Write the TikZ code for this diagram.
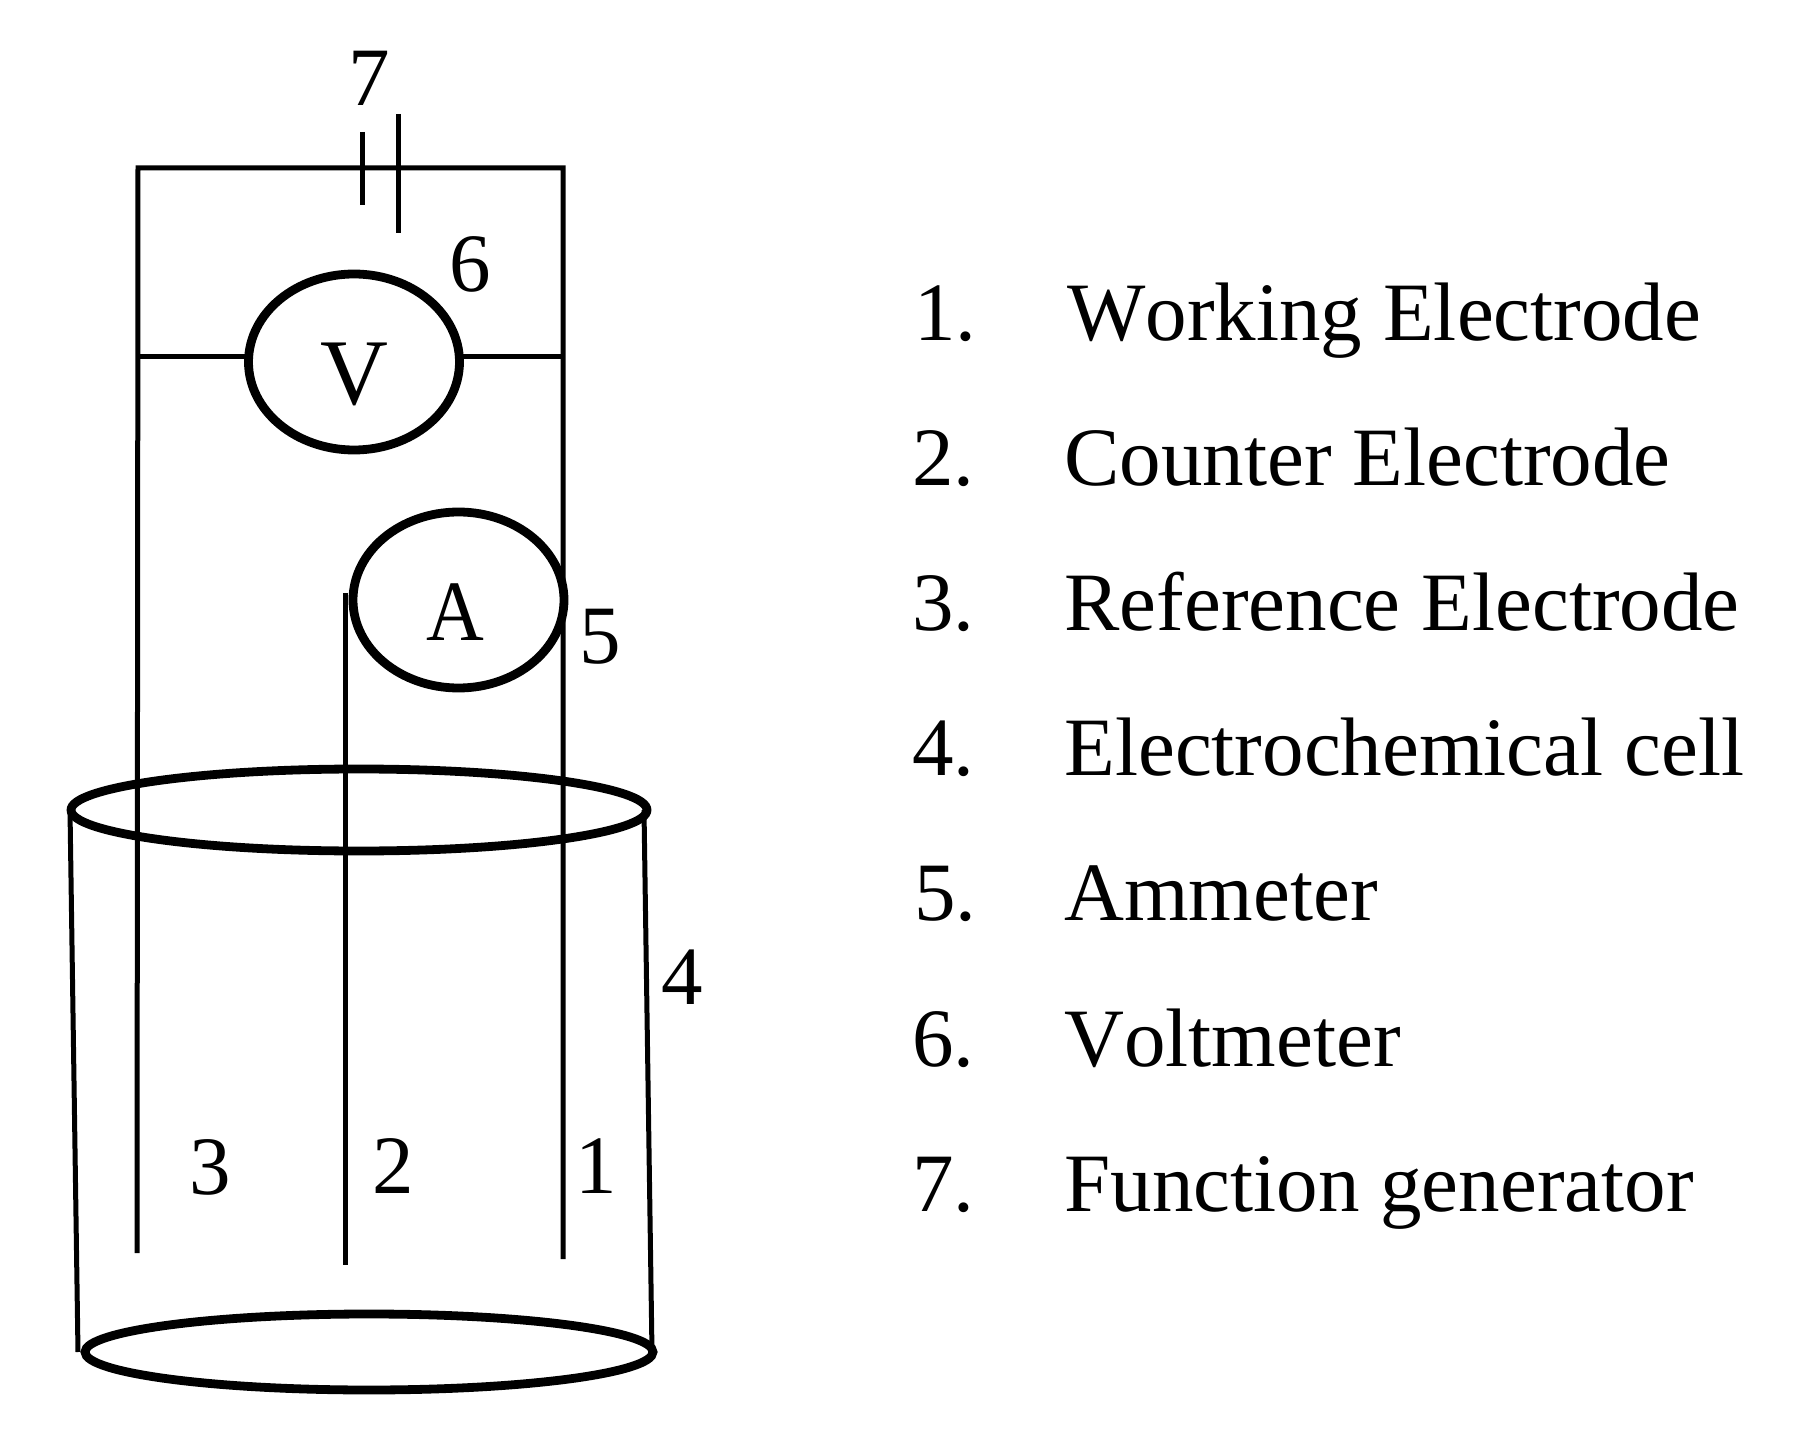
\documentclass[tikz,border=0pt]{standalone}
\usepackage{graphicx}
\usepackage{fontspec}
\setmainfont[Kerning=Off]{Liberation Serif}
\usetikzlibrary{shapes.geometric}
\tikzset{
  wire/.style={line width=2.5pt,black},
  rim/.style={draw,ellipse,line width=4.4pt,inner sep=0pt,outer sep=0pt},
  side/.style={line width=2.5pt,black},
  lbl/.style={inner sep=0pt,font=\fontsize{41.5pt}{50pt}\selectfont},
  meter/.style={inner sep=0pt,font=\fontsize{47pt}{50pt}\selectfont},
  ammeter/.style={inner sep=0pt,font=\fontsize{43pt}{50pt}\selectfont},
  itemnum/.style={inner sep=0pt,anchor=base west,font=\fontsize{41.5pt}{50pt}\selectfont},
  itemtxt/.style={inner sep=0pt,anchor=base west,font=\fontsize{41.5pt}{50pt}\selectfont}
}
\begin{document}
\begin{tikzpicture}[x=0.5pt,y=-0.5pt]
\fill[white,use as bounding box] (0,0) rectangle (1795,1433);
% coordinates
\coordinate (tl) at (138,168);
\coordinate (tr) at (563,168);
\coordinate (bl) at (137,1253);
\coordinate (br) at (563,1259);
\coordinate (vl) at (137,357);
\coordinate (vr) at (563,357);
\coordinate (mt) at (345,593);
\coordinate (mb) at (345,1265);
\coordinate (p1t) at (362,132);
\coordinate (p1b) at (362,205);
\coordinate (p2t) at (398,114);
\coordinate (p2b) at (398,233);
\coordinate (sl1) at (70,810);
\coordinate (sl2) at (78,1352);
\coordinate (sr1) at (644,810);
\coordinate (sr2) at (652,1352);
% meters and cell
\node[rim,minimum width=105.5pt,minimum height=88pt] (V) at (354,362) {};
\node[rim,minimum width=105.5pt,minimum height=88pt] (A) at (458.5,600) {};
\node[rim,minimum width=288pt,minimum height=41pt] (top) at (359,810) {};
\node[rim,minimum width=284pt,minimum height=38pt] (bot) at (369,1352) {};
% wires
\draw[wire] (bl) -- (tl) -- (tr) -- (br);
\draw[wire] (vl) -- (vl -| V.west);
\draw[wire] (vr) -- (vr -| V.east);
\draw[wire] (mt) -- (mb);
\draw[wire] (p1t) -- (p1b);
\draw[wire] (p2t) -- (p2b);
\draw[side] (sl1) -- (sl2);
\draw[side] (sr1) -- (sr2);
% labels
\node[meter] (vt) at (354,374) {V};
\node[ammeter] (at) at (455,612) {\scalebox{0.93}[1]{A}};
\node[lbl] (n7) at (369,78) {7};
\node[lbl] (n6) at (470,264) {6};
\node[lbl] (n5) at (600,637) {5};
\node[lbl] (n4) at (682,977) {4};
\node[lbl] (n3) at (210,1167) {3};
\node[lbl] (n2) at (393,1166) {2};
\node[lbl] (n1) at (596,1166) {1};
% list
\node[itemnum] (i1) at (914,341) {1.};
\node[itemtxt] (t1) at (1067,341) {Working Electrode};
\node[itemnum] (i2) at (912,486) {2.};
\node[itemtxt] (t2) at (1064,486) {Counter Electrode};
\node[itemnum] (i3) at (912,631) {3.};
\node[itemtxt] (t3) at (1064,631) {Reference Electrode};
\node[itemnum] (i4) at (912,775) {4.};
\node[itemtxt] (t4) at (1064,775) {Electrochemical cell};
\node[itemnum] (i5) at (914,920) {5.};
\node[itemtxt] (t5) at (1064,920) {Ammeter};
\node[itemnum] (i6) at (912,1066) {6.};
\node[itemtxt] (t6) at (1064,1066) {Voltmeter};
\node[itemnum] (i7) at (912,1211) {7.};
\node[itemtxt] (t7) at (1064,1211) {Function generator};
\end{tikzpicture}
\end{document}
